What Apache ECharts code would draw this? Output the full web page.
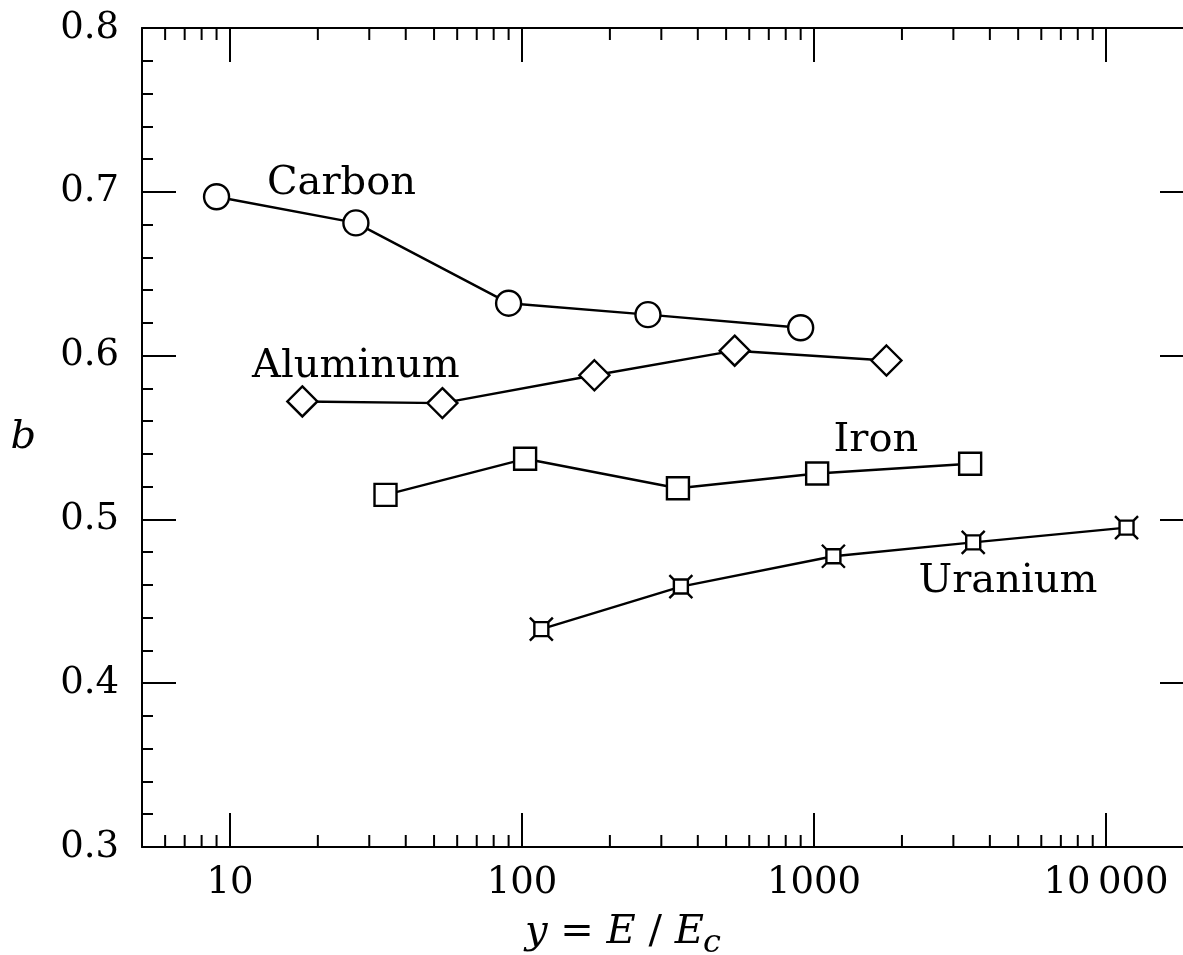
<!DOCTYPE html>
<html>
<head>
<meta charset="utf-8">
<script src="https://cdn.jsdelivr.net/npm/echarts@6/dist/echarts.min.js"></script>
<style>
  html, body { margin: 0; padding: 0; background: #fff; }
  #chart { width: 1183px; height: 955px; }
</style>
</head>
<body>
<div id="chart"></div>
<script>
// y = E/Ec on the log axis, b on the linear one
const carbonE = [9, 27, 90, 270, 900];
const carbonB = [0.697, 0.681, 0.632, 0.625, 0.617];
const aluminumE = [17.7, 53.4, 177, 535, 1770];
const aluminumB = [0.572, 0.571, 0.588, 0.603, 0.597];
const ironE = [34.1, 102.5, 342, 1025, 3424];
const ironB = [0.515, 0.537, 0.519, 0.528, 0.534];
const uraniumE = [116.5, 350, 1165, 3508, 11750];
const uraniumB = [0.433, 0.459, 0.4775, 0.486, 0.495];

// in-plot series names, placed in data coordinates
const labelText = ['Carbon', 'Aluminum', 'Iron', 'Uranium'];
const labelE = [24.1, 27.0, 1629, 4613];
const labelB = [0.7047, 0.5935, 0.5483, 0.4622];

// axis ranges and the small log ticks between decades
const eRange = [5, 20000];
const bRange = [0.3, 0.8];
const minorTickE = [6, 7, 8, 9, 20, 30, 40, 50, 60, 70, 80, 90,
  200, 300, 400, 500, 600, 700, 800, 900,
  2000, 3000, 4000, 5000, 6000, 7000, 8000, 9000];

const FONT = 'DejaVu Serif';
const chart = echarts.init(document.getElementById('chart'));

const pairs = (xs, ys) => xs.map((x, i) => [x, ys[i]]);

// uranium marker: small square with diagonal spurs at the corners
const spurSquare = 'path://M-7,-7L7,-7L7,7L-7,7Z M-7,-7L-11.5,-11.5 M7,-7L11.5,-11.5 M7,7L11.5,11.5 M-7,7L-11.5,11.5';

function lineSeries(name, data, symbol, size) {
  return {
    name: name,
    type: 'line',
    data: data,
    symbol: symbol,
    symbolSize: size,
    showAllSymbol: true,
    lineStyle: { color: '#000', width: 2.4 },
    itemStyle: { color: '#fff', borderColor: '#000', borderWidth: 2.4 },
    emphasis: { disabled: true },
    z: 3
  };
}

const tickFmt = v => {
  const s = String(Math.round(v));
  return s.length > 4 ? s.slice(0, s.length - 3) + '\u2009' + s.slice(-3) : s;
};

const axisLine = { show: true, onZero: false, lineStyle: { color: '#000', width: 2 } };
const majorTick = { inside: true, length: 34, lineStyle: { color: '#000', width: 2 } };
const minorTick = { show: true, splitNumber: 5, length: 11, lineStyle: { color: '#000', width: 2 } };

chart.setOption({
  animation: false,
  backgroundColor: '#fff',
  grid: { left: 142, top: 28, width: 1052, height: 819, outerBoundsMode: 'none', containLabel: false },
  xAxis: [
    {
      type: 'log', logBase: 10, min: eRange[0], max: eRange[1],
      position: 'bottom',
      axisLine: axisLine,
      axisTick: majorTick,
      axisLabel: {
        color: '#000', fontFamily: FONT, fontSize: 37, margin: 18,
        showMinLabel: false, showMaxLabel: false, formatter: tickFmt
      },
      splitLine: { show: false }
    },
    {
      type: 'log', logBase: 10, min: eRange[0], max: eRange[1],
      position: 'top',
      axisLine: axisLine,
      axisTick: majorTick,
      axisLabel: { show: false },
      splitLine: { show: false }
    }
  ],
  yAxis: [
    {
      type: 'value', min: bRange[0], max: bRange[1], interval: 0.1,
      position: 'left',
      name: 'b', nameLocation: 'middle', nameRotate: 0, nameGap: 106,
      nameTextStyle: { color: '#000', fontFamily: FONT, fontSize: 40, fontStyle: 'italic' },
      axisLine: axisLine,
      axisTick: majorTick,
      minorTick: minorTick,
      axisLabel: { color: '#000', fontFamily: FONT, fontSize: 37, margin: 23, formatter: v => v.toFixed(1) },
      splitLine: { show: false }
    },
    {
      type: 'value', min: bRange[0], max: bRange[1], interval: 0.1,
      position: 'right',
      axisLine: axisLine,
      axisTick: majorTick,
      minorTick: minorTick,
      axisLabel: { show: false },
      splitLine: { show: false }
    }
  ],
  graphic: [
    {
      type: 'text', left: 525, top: 913,
      style: {
        text: '{i|y} = {i|E} / {i|E}',
        fill: '#000', fontFamily: FONT, fontSize: 40,
        rich: { i: { fontFamily: FONT, fontSize: 40, fontStyle: 'italic', fill: '#000' } }
      }
    },
    {
      type: 'text', left: 703, top: 928,
      style: { text: 'c', fill: '#000', fontFamily: FONT, fontSize: 32, fontStyle: 'italic' }
    }
  ],
  series: [
    lineSeries('Carbon', pairs(carbonE, carbonB), 'circle', 25),
    lineSeries('Aluminum', pairs(aluminumE, aluminumB), 'diamond', 30),
    lineSeries('Iron', pairs(ironE, ironB), 'rect', 22),
    lineSeries('Uranium', pairs(uraniumE, uraniumB), spurSquare, 23),
    {
      type: 'scatter',
      silent: true,
      symbolSize: 0,
      itemStyle: { color: '#000' },
      data: labelText.map((t, i) => ({ name: t, value: [labelE[i], labelB[i]] })),
      label: {
        show: true, position: 'inside', formatter: '{b}',
        color: '#000', fontFamily: FONT, fontSize: 40,
        textBorderWidth: 0, opacity: 1
      },
      z: 4
    },
    {
      type: 'custom',
      silent: true,
      clip: false,
      data: minorTickE.map(v => [v, bRange[0]]),
      encode: { x: 0, y: 1 },
      renderItem: (params, api) => {
        const bottom = api.coord([api.value(0), bRange[0]]);
        const top = api.coord([api.value(0), bRange[1]]);
        return {
          type: 'group',
          children: [
            { type: 'line', shape: { x1: bottom[0], y1: bottom[1], x2: bottom[0], y2: bottom[1] - 12 },
              style: { stroke: '#000', lineWidth: 2 } },
            { type: 'line', shape: { x1: top[0], y1: top[1], x2: top[0], y2: top[1] + 12 },
              style: { stroke: '#000', lineWidth: 2 } }
          ]
        };
      }
    }
  ]
});
</script>
</body>
</html>
